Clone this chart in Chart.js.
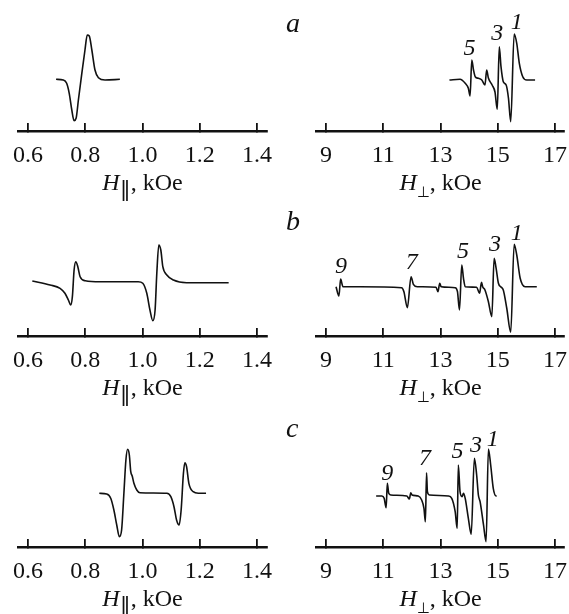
<!DOCTYPE html>
<html><head><meta charset="utf-8">
<script src="https://cdn.jsdelivr.net/npm/chart.js@4"></script>
<style>
html,body{margin:0;padding:0;background:#fff;}
#wrap{position:relative;width:569px;height:614px;overflow:hidden;background:#fff;}
canvas{position:absolute;}
.lbl{position:absolute;font-family:"Liberation Serif",serif;font-style:italic;font-size:28px;line-height:28px;color:#111;}
</style></head><body>
<div id="wrap">
<canvas id="c1" width="285" height="201" style="left:0;top:0"></canvas>
<canvas id="c2" width="284" height="201" style="left:285px;top:0"></canvas>
<canvas id="c3" width="285" height="206" style="left:0;top:200px"></canvas>
<canvas id="c4" width="284" height="206" style="left:285px;top:200px"></canvas>
<canvas id="c5" width="285" height="212" style="left:0;top:405px"></canvas>
<canvas id="c6" width="284" height="212" style="left:285px;top:405px"></canvas>
<div class="lbl" style="left:286px;top:9px">a</div>
<div class="lbl" style="left:286px;top:207px">b</div>
<div class="lbl" style="left:286px;top:414px">c</div>
</div>
<script>
// ---- tick labels ----
const parTicks = [0.6, 0.8, 1.0, 1.2, 1.4];
const parTickLabels = ['0.6', '0.8', '1.0', '1.2', '1.4'];
const perpTicks = [9, 11, 13, 15, 17];
const perpTickLabels = ['9', '11', '13', '15', '17'];

// ---- panel a ----
const aParField  = [0.698,0.723,0.735,0.744,0.753,0.761,0.768,0.776,0.788,0.799,0.807,0.814,0.823,0.834,0.846,0.869,0.921];
const aParSignal = [0,-0.7,-4,-14,-30.7,-41.4,-39,-20.7,6,29.3,44.3,43.3,29.3,9.3,1.6,-0.7,0];
const aPerpField  = [13.31,13.68,13.86,13.97,14.03,14.09,14.15,14.21,14.32,14.44,14.55,14.61,14.67,14.80,14.90,14.98,15.05,15.11,15.19,15.29,15.37,15.45,15.57,15.66,15.75,15.87,16.01,16.30];
const aPerpSignal = [0,0.7,-3.3,-8.3,-16,20,10,3.3,1.7,0,-5,10,2,-5,-12,-29.3,33.3,13.3,-1.7,-5,-18,-41.7,46,36.7,16.7,3.3,0,0];
const aPeakNames  = ['5','3','1'];
const aPeakField  = [14.01,14.98,15.66];
const aPeakHeight = [31.7,46.7,57.3];

// ---- panel b ----
const bParField  = [0.615,0.677,0.712,0.729,0.741,0.749,0.755,0.761,0.767,0.774,0.782,0.800,0.852,0.985,1.001,1.015,1.026,1.036,1.044,1.050,1.057,1.064,1.071,1.085,1.108,1.154,1.301];
const bParSignal = [0.7,-3.3,-6.6,-11.6,-18.3,-23.3,-15,11.7,20,15,5,1,0,0,-1.6,-11.6,-28.3,-39,-28.3,8.4,36.7,31.7,15,6.7,1.7,-1,-1];
const bPerpField  = [9.35,9.45,9.51,9.59,10.19,11.64,11.72,11.84,11.97,12.05,12.19,12.84,12.91,12.97,13.02,13.51,13.59,13.66,13.74,13.80,13.86,14.26,14.36,14.43,14.47,14.55,14.67,14.79,14.87,14.94,15.02,15.10,15.19,15.31,15.45,15.57,15.66,15.78,15.95,16.36];
const bPerpSignal = [0,-9.3,7.7,0,0,-1,-5,-21,10,2.4,0,-0.6,-5,3.5,0,-1,-5,-23.3,21.7,8.4,0,-0.6,-6.6,4.4,0,-3.3,-15,-30,28.4,18.4,3.4,0,-3.3,-21.3,-45.6,42.4,31.7,8.4,0,0];
const bPeakNames  = ['9','7','5','3','1'];
const bPeakField  = [9.52,11.99,13.78,14.90,15.66];
const bPeakHeight = [20,24.4,35,41.7,53.4];

// ---- panel c ----
const cParField  = [0.849,0.875,0.889,0.900,0.910,0.919,0.927,0.935,0.942,0.948,0.954,0.959,0.964,0.970,0.980,0.991,1.085,1.099,1.110,1.119,1.128,1.135,1.143,1.148,1.154,1.162,1.177,1.195,1.222];
const cParSignal = [0,-0.7,-5,-16.7,-31.7,-43.4,-36.7,0,33.3,44,38.3,21.6,17.3,10,3.3,0.6,0,-3.4,-13.4,-26.7,-31.7,-16.7,20,30.6,26.6,10,1.6,0,0];
const cPerpField  = [10.75,10.95,11.03,11.10,11.14,11.19,11.26,11.82,11.91,11.96,12.00,12.22,12.34,12.42,12.47,12.51,12.54,12.61,13.27,13.39,13.51,13.58,13.62,13.68,13.75,13.80,13.86,13.97,14.07,14.18,14.26,14.32,14.38,14.50,14.59,14.67,14.75,14.84,14.94,14.96];
const cPerpSignal = [0,0,-2.3,-11.7,12.7,2.7,1,0,-3,3.3,1,0,-4,-12.3,-25.7,23.3,4.3,1,0,-2.3,-15.7,-32.3,31,4.3,-0.7,2.7,-2.3,-22.3,-38.3,37.7,21,1,-5.7,-29,-45.7,47,31,7.7,0,0];
const cPeakNames  = ['9','7','5','3','1'];
const cPeakField  = [11.14,12.46,13.59,14.24,14.82];
const cPeakHeight = [22.7,37.7,44.3,50.3,56];

const INK = '#111';
const SERIF = '"Liberation Serif", serif';

const axisTitlePlugin = {
  id: 'axisTitle',
  afterDraw(chart, args, opts) {
    const ctx = chart.ctx;
    const xs = chart.scales.x;
    const cx = xs.getPixelForValue(opts.center);
    const cy = chart.chartArea.bottom + 51;
    ctx.save();
    ctx.fillStyle = INK;
    ctx.textBaseline = 'alphabetic';
    const fH = 'italic 24px ' + SERIF;
    const fS = opts.subFont;
    const fR = '24px ' + SERIF;
    ctx.font = fH; const w1 = ctx.measureText('H').width;
    ctx.font = fS; const w2 = ctx.measureText(opts.sub).width;
    ctx.font = fR; const w3 = ctx.measureText(', kOe').width;
    let x = cx - (w1 + w2 + w3) / 2;
    const base = cy + 8;
    ctx.textAlign = 'left';
    ctx.font = fH; ctx.fillText('H', x, base); x += w1;
    ctx.font = fS; ctx.fillText(opts.sub, x, base + opts.subDrop); x += w2;
    ctx.font = fR; ctx.fillText(', kOe', x, base);
    ctx.restore();
  }
};

const peakLabelPlugin = {
  id: 'peakLabels',
  afterDatasetsDraw(chart, args, opts) {
    if (!opts.names) return;
    const ctx = chart.ctx;
    ctx.save();
    ctx.fillStyle = INK;
    ctx.font = 'italic 24px ' + SERIF;
    ctx.textAlign = 'center';
    ctx.textBaseline = 'middle';
    opts.names.forEach((t, i) => {
      ctx.fillText(t, chart.scales.x.getPixelForValue(opts.field[i]), chart.scales.y.getPixelForValue(opts.height[i]));
    });
    ctx.restore();
  }
};

const parSub = {sub: '\u2225', subFont: '22px "DejaVu Sans", sans-serif', subDrop: 7};
const perpSub = {sub: '\u22A5', subFont: '15px "DejaVu Sans", sans-serif', subDrop: 7};

const panels = [
  {id:'c1', field:aParField,  signal:aParSignal,  xmin:0.565, xmax:1.435, ymin:-51.7, ymax:79.3, ticks:parTicks,  labels:parTickLabels,  s:parSub,  pl:18, pr:18, center:1.0},
  {id:'c2', field:aPerpField, signal:aPerpSignal, xmin:8.65,  xmax:17.31, ymin:-51,   ymax:80,   ticks:perpTicks, labels:perpTickLabels, s:perpSub, pl:31, pr:5,  center:13, peaks:{names:aPeakNames, field:aPeakField, height:aPeakHeight}},
  {id:'c3', field:bParField,  signal:bParSignal,  xmin:0.565, xmax:1.435, ymin:-54.3, ymax:81.7, ticks:parTicks,  labels:parTickLabels,  s:parSub,  pl:18, pr:18, center:1.0},
  {id:'c4', field:bPerpField, signal:bPerpSignal, xmin:8.65,  xmax:17.31, ymin:-49.3, ymax:86.7, ticks:perpTicks, labels:perpTickLabels, s:perpSub, pl:31, pr:5,  center:13, peaks:{names:bPeakNames, field:bPeakField, height:bPeakHeight}},
  {id:'c5', field:cParField,  signal:cParSignal,  xmin:0.565, xmax:1.435, ymin:-53.7, ymax:88.3, ticks:parTicks,  labels:parTickLabels,  s:parSub,  pl:18, pr:18, center:1.0},
  {id:'c6', field:cPerpField, signal:cPerpSignal, xmin:8.65,  xmax:17.31, ymin:-51,   ymax:91,   ticks:perpTicks, labels:perpTickLabels, s:perpSub, pl:31, pr:5,  center:13, peaks:{names:cPeakNames, field:cPeakField, height:cPeakHeight}}
];

function build() {
  panels.forEach(p => {
    new Chart(document.getElementById(p.id), {
      type: 'line',
      data: {
        datasets: [{
          data: p.field.map((x, i) => ({x: x, y: p.signal[i]})),
          borderColor: INK,
          borderWidth: 1.6,
          pointRadius: 0,
          cubicInterpolationMode: 'monotone',
          fill: false
        }]
      },
      options: {
        responsive: false,
        animation: false,
        devicePixelRatio: 1,
        layout: {padding: {left: p.pl, right: p.pr, top: 0, bottom: 0}},
        plugins: {
          legend: {display: false},
          tooltip: {enabled: false},
          axisTitle: Object.assign({center: p.center}, p.s),
          peakLabels: p.peaks || {}
        },
        scales: {
          x: {
            type: 'linear',
            position: 'bottom',
            min: p.xmin,
            max: p.xmax,
            afterBuildTicks: s => { s.ticks = p.ticks.map(v => ({value: v})); },
            afterFit: s => { s.height = 70; s.paddingLeft = 0; s.paddingRight = 0; },
            grid: {drawOnChartArea: false, drawTicks: true, tickLength: -8, color: INK, lineWidth: 1.8},
            border: {display: true, color: INK, width: 2.5},
            ticks: {
              color: INK,
              font: {family: SERIF, size: 24},
              padding: 18,
              maxRotation: 0,
              autoSkip: false,
              callback: (v, i) => p.labels[i]
            }
          },
          y: {display: false, min: p.ymin, max: p.ymax}
        }
      },
      plugins: [axisTitlePlugin, peakLabelPlugin]
    });
  });
}

const fontLoads = [
  '24px "Liberation Serif"', 'italic 24px "Liberation Serif"', '22px "DejaVu Sans"'
].map(f => document.fonts.load(f).catch(() => null));
Promise.all(fontLoads).then(build, build);
</script>
</body></html>
